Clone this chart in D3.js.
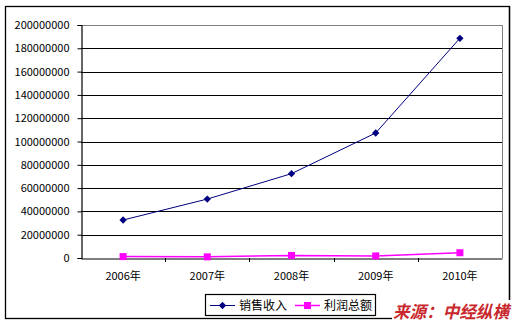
<!DOCTYPE html>
<html>
<head>
<meta charset="utf-8">
<script src="https://cdn.jsdelivr.net/npm/d3@7"></script>
<style>
  body { margin: 0; background: #fff; }
  svg text { font-family: "Noto Sans CJK SC", "DejaVu Sans", sans-serif; }
</style>
</head>
<body>
<script>
// data
const years = ["2006年", "2007年", "2008年", "2009年", "2010年"];
const sales = [32600000, 50600000, 72400000, 107300000, 188600000];   // 销售收入
const profit = [1200000, 1000000, 2200000, 1800000, 4500000];         // 利润总额
const seriesNames = ["销售收入", "利润总额"];
const yTicks = [0, 20000000, 40000000, 60000000, 80000000, 100000000,
  120000000, 140000000, 160000000, 180000000, 200000000];

const w = 516;
const h = 325;

// plot area
const plotLeft = 81;
const plotRight = 502;
const plotTop = 25;
const plotBottom = 258;

const svg = d3.select("body").append("svg").attr("width", w).attr("height", h);

// outer frame
svg.append("rect")
  .attr("x", 5.5).attr("y", 6.5)
  .attr("width", 504).attr("height", 312)
  .attr("fill", "none").attr("stroke", "#000").attr("stroke-width", 1.3);

const x = d3.scaleBand().domain(years).range([plotLeft, plotRight]);
const y = d3.scaleLinear().domain([0, 200000000]).range([plotBottom, plotTop]);

// gridlines
svg.append("g")
  .selectAll("line")
  .data(yTicks.slice(1, -1))
  .enter()
  .append("line")
  .attr("x1", plotLeft).attr("x2", plotRight)
  .attr("y1", (d) => Math.round(y(d)) + 0.5)
  .attr("y2", (d) => Math.round(y(d)) + 0.5)
  .attr("stroke", "#000").attr("stroke-width", 1.2);

// plot border top/right in gray
svg.append("path")
  .attr("d", `M${plotLeft},${plotTop + 0.5}H${plotRight + 0.5}V${plotBottom}`)
  .attr("fill", "none").attr("stroke", "#808080");

// y axis
const yAxis = svg.append("g")
  .attr("transform", `translate(${plotLeft + 0.5},0)`)
  .call(d3.axisLeft(y).tickValues(yTicks).tickSize(4).tickPadding(8).tickFormat(d3.format("d")));
yAxis.select(".domain").attr("stroke", "#000").attr("stroke-width", 1.2);
yAxis.selectAll("text").attr("font-size", 11).attr("fill", "#000");

// x axis (ticks between categories)
const xAxis = svg.append("g")
  .attr("transform", `translate(0,${plotBottom + 0.5})`)
  .call(d3.axisBottom(x).tickSize(0).tickPadding(14));
xAxis.select(".domain").attr("stroke", "#000").attr("stroke-width", 1.2);
xAxis.selectAll("text").attr("font-size", 11).attr("fill", "#000");
svg.append("g")
  .selectAll("line")
  .data(years.slice(1))
  .enter()
  .append("line")
  .attr("x1", (d) => Math.round(x(d)) + 0.5)
  .attr("x2", (d) => Math.round(x(d)) + 0.5)
  .attr("y1", plotBottom).attr("y2", plotBottom + 4)
  .attr("stroke", "#000");

const cx = (i) => x(years[i]) + x.bandwidth() / 2;
const line = d3.line().x((d, i) => cx(i)).y((d) => y(d));

// 利润总额
svg.append("path")
  .datum(profit)
  .attr("d", line)
  .attr("fill", "none").attr("stroke", "#ff00ff").attr("stroke-width", 1.5);
svg.append("g")
  .selectAll("rect")
  .data(profit)
  .enter()
  .append("rect")
  .attr("x", (d, i) => cx(i) - 3.5)
  .attr("y", (d) => y(d) - 3.5)
  .attr("width", 7).attr("height", 7)
  .attr("fill", "#ff00ff");

// 销售收入
svg.append("path")
  .datum(sales)
  .attr("d", line)
  .attr("fill", "none").attr("stroke", "#000080").attr("stroke-width", 1);
svg.append("g")
  .selectAll("path")
  .data(sales)
  .enter()
  .append("path")
  .attr("d", d3.symbol(d3.symbolDiamond2, 34))
  .attr("transform", (d, i) => `translate(${cx(i)},${y(d)})`)
  .attr("fill", "#000080");

// legend
const lg = svg.append("g");
lg.append("rect")
  .attr("x", 205.5).attr("y", 294.5)
  .attr("width", 170).attr("height", 21)
  .attr("fill", "#fff").attr("stroke", "#000").attr("stroke-width", 1.2);

const legendItems = [
  { name: seriesNames[0], color: "#000080", x: 210 },
  { name: seriesNames[1], color: "#ff00ff", x: 295 },
];
legendItems.forEach((it, i) => {
  lg.append("line")
    .attr("x1", it.x).attr("x2", it.x + 25)
    .attr("y1", 305.5).attr("y2", 305.5)
    .attr("stroke", it.color).attr("stroke-width", i ? 1.5 : 1);
  if (i === 0) {
    lg.append("path")
      .attr("d", d3.symbol(d3.symbolDiamond2, 34))
      .attr("transform", `translate(${it.x + 12.5},305.5)`)
      .attr("fill", it.color);
  } else {
    lg.append("rect")
      .attr("x", it.x + 9).attr("y", 302).attr("width", 7).attr("height", 7)
      .attr("fill", it.color);
  }
  lg.append("text")
    .attr("x", it.x + 29).attr("y", 310)
    .attr("font-size", 12)
    .attr("textLength", 48)
    .attr("lengthAdjust", "spacingAndGlyphs")
    .text(it.name);
});

// source note
svg.append("rect")
  .attr("x", 392).attr("y", 300).attr("width", 124).attr("height", 25)
  .attr("fill", "#fff");
svg.append("line")
  .attr("x1", 509.5).attr("x2", 509.5).attr("y1", 6).attr("y2", 300)
  .attr("stroke", "#000").attr("stroke-width", 1.3);
svg.append("text")
  .attr("x", 393).attr("y", 318)
  .attr("font-size", 17).attr("font-weight", "bold").attr("font-style", "italic")
  .attr("textLength", 116)
  .attr("lengthAdjust", "spacingAndGlyphs")
  .attr("fill", "#c8282d")
  .text("来源：中经纵横");
</script>
</body>
</html>
